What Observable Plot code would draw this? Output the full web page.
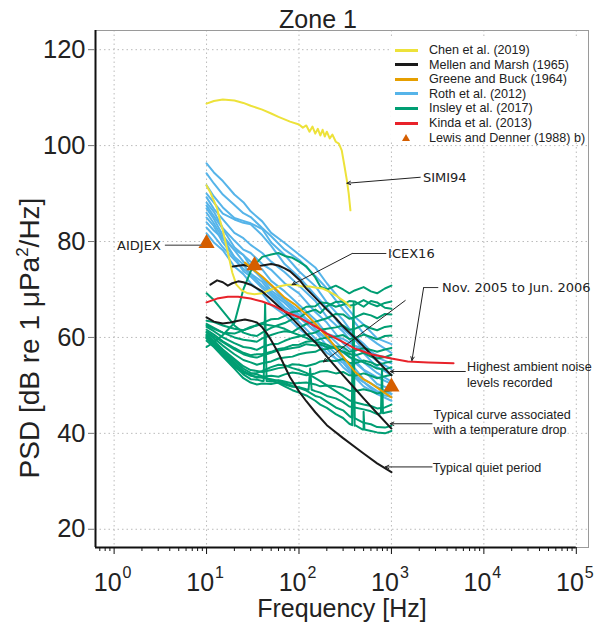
<!DOCTYPE html>
<html><head><meta charset="utf-8">
<script src="https://cdn.jsdelivr.net/npm/d3@7"></script>
<script src="https://cdn.jsdelivr.net/npm/@observablehq/plot@0.6"></script>
<style>
body{margin:0;background:#fff;}
#chart{position:relative;width:594px;height:627px;font-family:"Liberation Sans",Arial,sans-serif;}
#legend{position:absolute;left:391px;top:39px;width:196px;height:103px;background:#fff;font-size:12.6px;color:#222;}
#legend .row{position:absolute;left:0;height:14px;display:flex;align-items:center;white-space:nowrap;}
#legend .sw{display:inline-block;width:23px;height:3px;margin-left:4px;margin-right:11px;}
</style></head><body><div id="chart"></div>
<script>
// ---------- data (frequency in Hz, PSD in dB re 1 µPa²/Hz) ----------
const seriesNames = ["Chen et al. (2019)","Mellen and Marsh (1965)","Greene and Buck (1964)","Roth et al. (2012)","Insley et al. (2017)","Kinda et al. (2013)","Lewis and Denner (1988) b)"];
const seriesColors = ["#EDE23A","#1a1a1a","#E69F00","#56B4E9","#009E73","#E8222A","#D55E00"];

// Chen et al. (2019) – SIMI94
const chenSimiFreq = [10,12,15,20,25,30,40,50,60,80,100,110,120,130,140,150,160,170,180,190,200,215,230,250,270,290,310,330,345,360];
const chenSimiDb   = [108.75,109.3,109.6,109.4,108.9,108.3,107.5,106.7,106.0,105.0,104.4,103.75,104.2,102.9,103.96,102.5,103.5,102.1,103.3,101.9,102.9,101.5,102.3,100.8,100.4,99.0,95.8,92.7,90.0,86.5];
// Chen et al. (2019) – ICEX16
const chenIcexFreq = [10,11,12,13,14,15,17,19,21,24,28,33,40,50,60,75,90,110,130,150,180,210,250,290,330,360];
const chenIcexDb   = [91.7,90.2,88.5,86.9,84.4,82.3,77.7,73.5,71.0,69.8,69.2,69.0,69.2,70.0,70.6,71.0,71.0,70.6,70.6,70.4,70.2,69.6,68.75,67.9,67.1,66.25];

// Mellen and Marsh (1965)
const mellenHighFreq = [19.2,25,30,40,50,60,70,80,100,120,150,200,250,300,400,500,600,800,1000];
const mellenHighDb   = [74.8,75.1,74.8,75.0,75.3,75.0,74.4,73.8,72.1,70.2,68.3,65.8,64.0,62.3,60.0,58.1,56.5,54.0,52.1];
const mellenTempFreq = [11,13,15,17,19,22,25,30,40,50,60,80,100,120,150,200,300,400,500,700,1000];
const mellenTempDb   = [71.0,71.9,71.5,70.8,71.3,71.7,71.5,71.0,69.6,67.9,66.5,64.4,62.5,60.8,59.0,56.0,52.1,49.4,47.3,44.2,41.0];
const mellenQuietFreq = [10,12,15,18,22,26,30,35,40,45,50,60,70,80,100,120,150,200,300,500,700,1000];
const mellenQuietDb   = [64.2,63.3,62.9,63.1,63.5,63.75,63.5,63.1,62.1,60.8,59.4,56.7,54.0,51.7,48.75,46.7,44.4,41.7,39.0,35.8,33.75,31.9];

// Greene and Buck (1964)
const greeneFreq = [26,30,40,50,70,90,120,150,200,300,400,500,600,800,1000];
const greeneDb   = [75.6,74.6,72.7,71.0,68.3,66.9,64.8,62.9,60.2,56.0,52.9,51.25,50.4,48.75,47.5];

// Kinda et al. (2013)
const kindaFreq = [10,13,17,22,30,40,55,70,100,150,200,300,400,600,1000,1500,2500,4700];
const kindaDb   = [67.3,68.1,68.5,68.5,68.1,67.5,66.5,65.4,64.2,62.3,60.8,59.0,57.7,56.5,55.6,55.0,54.8,54.6];

// Roth et al. (2012)
const rothFreq = [10,12,15,20,25,30,40,50,70,100,150,200,300,400,500,700,1000];
const rothDb = [
 [96.3,94.4,92.6,89.8,88.2,86.3,84.2,81.8,79.7,77.3,74.6,71.3,67.2,64.3,62.7,59.8,58.6],
 [94.2,92.1,89.8,87.6,85.9,85.1,82.8,81.1,78.3,76.2,72.8,70.2,65.8,63.2,60.8,58.7,56.8],
 [91.7,89.4,87.1,84.9,84.3,83.8,82.6,79.8,77.2,73.8,70.7,67.3,63.6,60.3,58.7,55.8,54.6],
 [90.0,88.1,85.8,84.6,83.9,83.6,81.3,79.1,75.3,72.6,68.8,66.2,61.8,59.6,57.3,55.1,53.4],
 [89.2,86.8,84.6,81.8,80.7,79.3,77.6,75.8,73.6,70.8,67.6,64.3,61.2,58.3,56.7,53.8,52.2],
 [88.1,86.2,82.8,80.2,78.3,77.6,75.3,74.1,71.3,69.2,65.3,63.1,58.8,56.7,54.8,52.6,50.8],
 [87.5,85.3,82.6,78.8,77.2,75.8,74.2,71.8,69.6,66.8,63.7,60.8,57.6,54.8,53.2,50.3,49.2],
 [86.9,84.7,81.3,78.2,75.8,74.6,72.3,70.7,67.8,65.6,61.8,59.7,55.8,53.6,51.3,49.7,48.3],
 [86.0,83.8,80.7,76.8,75.2,73.3,71.6,69.3,67.2,64.3,61.2,58.3,55.2,52.3,50.7,48.3,47.6],
 [85.0,83.2,79.8,76.7,73.8,72.7,70.3,68.7,65.8,63.2,59.8,57.7,53.8,51.7,49.8,48.2,46.8],
 [84.0,82.3,80.6,78.3,77.2,74.8,72.2,69.8,67.7,64.8,62.7,60.8,59.7,58.3,57.7,56.3,55.6],
 [82.9,81.2,78.8,76.2,74.3,73.2,70.8,69.2,66.3,64.2,61.3,59.7,56.8,55.2,53.3,51.7,50.3],
 [81.7,79.8,78.2,74.8,73.2,71.3,69.2,66.8,64.7,61.8,59.2,56.8,54.7,51.8,50.7,48.8,48.2]
];

// Insley et al. (2017)
const insleyFreq = [10,12,15,20,25,30,35,40,50,60,70,85,100,120,150,170,200,250,300,350,400,500,600,700,850,1000];
const insleyDb = [
 [58.0,59.0,60.5,63.0,70.0,73.8,75.6,76.8,77.3,77.6,77.0,76.6,75.8,74.8,72.5,70.6,70.0,70.8,70.0,69.2,69.8,70.5,69.6,69.2,70.2,70.8],
 [69.2,67.8,65.5,62.5,61.0,60.5,60.3,61.0,62.0,62.6,63.0,63.8,64.0,65.2,65.8,65.1,66.5,67.4,67.5,66.6,66.8,67.8,67.0,66.5,67.2,67.5],
 [63.5,63.2,62.5,61.8,61.5,62.0,62.6,63.0,63.8,63.9,64.5,65.3,65.5,66.4,66.5,67.3,67.2,66.4,66.8,67.6,67.5,66.4,67.6,67.3,66.2,66.0],
 [62.8,62.0,61.0,60.0,59.5,59.3,59.1,59.8,60.5,61.0,61.3,61.1,62.0,62.8,63.3,63.6,64.0,64.9,64.8,63.9,64.2,65.0,64.6,64.0,64.9,64.8],
 [62.2,61.3,60.0,58.8,58.0,57.8,57.4,58.0,58.6,58.7,59.3,59.9,60.2,60.6,61.0,61.6,61.8,62.1,62.5,61.6,61.8,62.6,61.9,61.5,62.2,62.4],
 [61.6,60.6,59.2,57.8,56.8,56.3,56.5,56.5,57.0,57.6,57.8,58.4,58.5,59.1,59.3,59.7,60.0,60.2,60.5,59.7,59.8,60.6,60.1,59.6,60.3,60.4],
 [61.0,59.8,58.3,56.5,55.3,54.8,54.3,54.6,55.0,55.6,55.8,56.0,56.5,56.8,57.0,57.5,57.6,58.1,58.0,57.0,57.2,57.8,57.4,57.0,57.5,57.8],
 [60.6,59.3,57.5,55.5,54.0,53.2,53.0,52.8,53.2,53.6,53.8,54.4,54.3,54.0,54.5,55.0,55.2,55.1,55.5,54.7,54.6,55.2,54.8,54.2,54.7,55.0],
 [60.2,58.8,57.0,54.8,53.0,52.2,51.6,51.8,52.0,51.8,52.3,52.7,52.5,52.1,52.5,52.9,53.0,52.5,52.8,52.1,52.0,52.5,52.0,51.5,51.9,52.2],
 [59.8,58.4,56.5,54.2,52.3,51.3,51.2,50.9,50.8,51.1,50.8,50.4,50.5,50.6,50.2,49.8,50.0,49.8,49.5,48.9,48.8,49.2,48.8,48.3,48.7,49.0],
 [59.3,58.0,56.0,53.5,51.5,50.6,50.2,50.4,50.3,50.6,50.2,49.7,49.6,49.2,48.8,48.5,47.8,47.3,46.5,45.6,45.4,45.0,44.6,44.0,44.3,44.6],
 [59.9,58.5,56.8,54.5,52.8,52.0,51.8,51.6,51.3,50.9,50.5,49.9,49.5,48.9,47.8,47.5,46.6,45.4,44.8,43.6,43.2,42.2,41.9,41.3,41.2,41.6],
 [60.4,59.0,57.3,55.2,53.5,52.6,52.3,51.9,51.0,50.5,49.8,49.0,48.5,47.9,46.8,46.0,45.3,44.0,43.2,42.0,41.6,40.8,40.5,40.2,40.0,40.5],
 [61.2,60.2,59.0,57.5,56.5,56.0,55.8,56.2,56.8,57.3,57.5,57.8,58.0,58.6,58.3,58.5,58.0,57.8,57.0,55.9,55.5,54.8,54.2,53.5,53.3,53.8],
 [62.5,61.8,61.0,60.8,61.5,62.2,62.5,62.8,62.5,62.2,61.8,61.0,60.5,59.9,59.0,58.9,58.5,57.6,57.0,56.6,56.2,56.8,56.0,55.6,55.9,56.4],
 [60.0,58.6,56.2,53.8,52.6,52.4,52.6,53.0,53.8,54.3,54.2,53.6,53.2,52.6,51.5,50.9,50.0,48.8,47.8,46.9,46.5,46.0,45.7,45.2,45.4,46.0]
];
// tonal spikes: [curve index, f low, f peak, f high, base dB, peak dB]
const insleySpikes = [
 [9, 41.5, 43, 44.6, 50.9, 67.0],
 [10, 127, 132, 137, 49.1, 53.5],
 [12, 376, 390, 404, 41.7, 67.3],
 [11, 372, 385, 398, 43.3, 63.5],
 [12, 490, 500, 510, 40.8, 44.5],
 [10, 770, 790, 810, 44.2, 53.5]
];

// Lewis and Denner (1988) b)
const lewisFreq = [10, 33, 1000];
const lewisDb   = [79.6, 75.0, 49.7];

// annotations
const noteText = ["SIMI94","ICEX16","AIDJEX","Nov. 2005 to Jun. 2006","Highest ambient noise\nlevels recorded","Typical curve associated\nwith a temperature drop","Typical quiet period"];
const noteFreq = [2190, 920, 3.2, 3520, 6580, 2860, 2800];
const noteDb   = [93.3, 77.5, 79.2, 70.4, 52.4, 42.5, 32.9];
// leader segments without head: [f1, db1, f2, db2]
const leaderSegs = [[880,77.5,376,77.5],[3210,70.4,2230,70.4]];
// arrows: [f1, db1, f2(tip), db2(tip)]
const arrowSegs = [[2050,93.4,330,92.15],[376,77.5,84.2,71.0],[2230,70.4,1667,55.2],[6300,52.9,970,52.9],[2750,42.0,970,42.0],[2750,33.0,857,33.0],[1410,67.7,184,54.9]];
const aidjexLine = [3.54,79.2,8.85,79.2];

const xMajor = [1,10,100,1000,10000,100000];
const yTicks = [20,40,60,80,100,120];

// ---------- build tables ----------
const pairs = (fs, ds, id) => fs.map((f,i) => ({f, db: ds[i], id}));
const chenT = [...pairs(chenSimiFreq, chenSimiDb, "a"), ...pairs(chenIcexFreq, chenIcexDb, "b")];
const mellenT = [...pairs(mellenHighFreq, mellenHighDb, "h"), ...pairs(mellenTempFreq, mellenTempDb, "t"), ...pairs(mellenQuietFreq, mellenQuietDb, "q")];
const greeneT = pairs(greeneFreq, greeneDb, "g");
const kindaT = pairs(kindaFreq, kindaDb, "k");
const rothT = rothDb.flatMap((ds, j) => pairs(rothFreq, ds, j));
const insleyT = insleyDb.flatMap((ds, j) => {
  const pts = pairs(insleyFreq, ds, j);
  for (const s of insleySpikes) if (s[0] === j) {
    pts.push({f:s[1], db:s[4], id:j}, {f:s[2], db:s[5], id:j}, {f:s[3], db:s[4], id:j});
  }
  return pts.sort((a,b) => a.f - b.f);
});
const lewisT = pairs(lewisFreq, lewisDb, "l");
const notesT = noteText.map((t,i) => ({t, f: noteFreq[i], db: noteDb[i]}));
const verdanaNotes = notesT.filter((d,i) => i === 0 || i === 1 || i === 3);
const aidjexNote = notesT.filter((d,i) => i === 2);
const arialNotes = notesT.filter((d,i) => i >= 4);

const minor = [];
for (let e = -1; e < 5; e++) for (let m = 2; m <= 9; m++) { const v = m * 10 ** e; if (v >= 0.65) minor.push(v); }

const X_DOMAIN = [0.6288, 135500];
const Y_DOMAIN = [16.2, 124];
const lw = 2;

const plot = Plot.plot({
  width: 594, height: 627,
  marginTop: 30, marginRight: 6, marginBottom: 80, marginLeft: 95,
  x: {type: "log", domain: X_DOMAIN},
  y: {domain: Y_DOMAIN},
  style: {fontFamily: "Liberation Sans, Arial, sans-serif", background: "transparent", color: "#222"},
  marks: [
    Plot.gridX(xMajor, {stroke: "#bbb", strokeOpacity: 1, strokeDasharray: "1.5,3"}),
    Plot.gridY(yTicks, {stroke: "#bbb", strokeOpacity: 1, strokeDasharray: "1.5,3"}),
    Plot.frame({stroke: "#9a9a9a", strokeWidth: 1}),
    Plot.line(rothT, {x: "f", y: "db", z: "id", stroke: seriesColors[3], strokeWidth: lw}),
    Plot.line(insleyT, {x: "f", y: "db", z: "id", stroke: seriesColors[4], strokeWidth: lw}),
    Plot.line(chenT, {x: "f", y: "db", z: "id", stroke: seriesColors[0], strokeWidth: lw}),
    Plot.line(mellenT, {x: "f", y: "db", z: "id", stroke: seriesColors[1], strokeWidth: lw}),
    Plot.line(greeneT, {x: "f", y: "db", z: "id", stroke: seriesColors[2], strokeWidth: lw}),
    Plot.line(kindaT, {x: "f", y: "db", z: "id", stroke: seriesColors[5], strokeWidth: lw}),
    Plot.dot(lewisT, {x: "f", y: "db", symbol: "triangle", r: 6, fill: seriesColors[6], stroke: "none"}),
    Plot.link([aidjexLine], {x1: d => d[0], y1: d => d[1], x2: d => d[2], y2: d => d[3], stroke: "#777", strokeWidth: 1.5}),
    Plot.link(leaderSegs, {x1: d => d[0], y1: d => d[1], x2: d => d[2], y2: d => d[3], stroke: "#333", strokeWidth: 1}),
    Plot.arrow(arrowSegs, {x1: d => d[0], y1: d => d[1], x2: d => d[2], y2: d => d[3], stroke: "#222", strokeWidth: 1, headLength: 6, headAngle: 50}),
    Plot.text(verdanaNotes, {x: "f", y: "db", text: "t", textAnchor: "start", fontFamily: "DejaVu Sans", fontSize: 13, fill: "#222"}),
    Plot.text(aidjexNote, {x: "f", y: "db", text: "t", textAnchor: "end", fontFamily: "DejaVu Sans", fontSize: 13, fill: "#222"}),
    Plot.text(arialNotes, {x: "f", y: "db", text: "t", textAnchor: "start", fontFamily: "Liberation Sans", fontSize: 12.6, fill: "#222", lineHeight: 1.25}),
    Plot.ruleX([X_DOMAIN[0]], {stroke: "#111", strokeWidth: 2}),
    Plot.ruleY([Y_DOMAIN[0]], {x1: X_DOMAIN[0], x2: 100000, stroke: "#111", strokeWidth: 2}),
    Plot.axisY(yTicks, {tickSize: 7, tickPadding: 3, fontSize: 25.5, label: null, stroke: "#777", fill: "#222"}),
    Plot.axisX(xMajor, {tickSize: 7, tickFormat: () => "", label: null, stroke: "#111"}),
    Plot.axisX(minor, {tickSize: 4, tickFormat: () => "", label: null, stroke: "#111"})
  ]
});

const svg = d3.select(plot);
const sx = plot.scale("x");
xMajor.forEach((v) => {
  const px = sx.apply(v);
  svg.append("text").attr("x", px + 8).attr("y", 591).attr("text-anchor", "end")
    .attr("font-size", 25).attr("fill", "#222").text("10");
  svg.append("text").attr("x", px + 9).attr("y", 578).attr("text-anchor", "start")
    .attr("font-size", 16).attr("fill", "#222").text(String(Math.round(Math.log10(v))));
});
svg.append("text").attr("x", 318).attr("y", 28).attr("text-anchor", "middle")
  .attr("font-size", 25).attr("fill", "#222").text("Zone 1");
svg.append("text").attr("x", 342).attr("y", 617).attr("text-anchor", "middle")
  .attr("font-size", 25).attr("fill", "#222").text("Frequency [Hz]");
const yl = svg.append("text").attr("transform", "translate(39,338) rotate(-90)").attr("text-anchor", "middle")
  .attr("font-size", 28).attr("fill", "#222");
yl.append("tspan").text("PSD [dB re 1 μPa");
yl.append("tspan").attr("font-size", 17).attr("dy", -11).text("2");
yl.append("tspan").attr("dy", 11).text("/Hz]");

const chart = document.getElementById("chart");
chart.appendChild(plot);

// legend
const legend = document.createElement("div");
legend.id = "legend";
seriesNames.forEach((name, i) => {
  const row = document.createElement("div");
  row.className = "row";
  row.style.top = (4 + i * 14.6) + "px";
  if (i < 6) {
    row.innerHTML = `<span class="sw" style="background:${seriesColors[i]}"></span><span>${name}</span>`;
  } else {
    row.innerHTML = `<svg width="38" height="14" style="flex:none"><path d="M15,3 L19,10 L11,10 Z" fill="${seriesColors[i]}"/></svg><span>${name}</span>`;
  }
  legend.appendChild(row);
});
chart.appendChild(legend);
</script>
</body></html>
